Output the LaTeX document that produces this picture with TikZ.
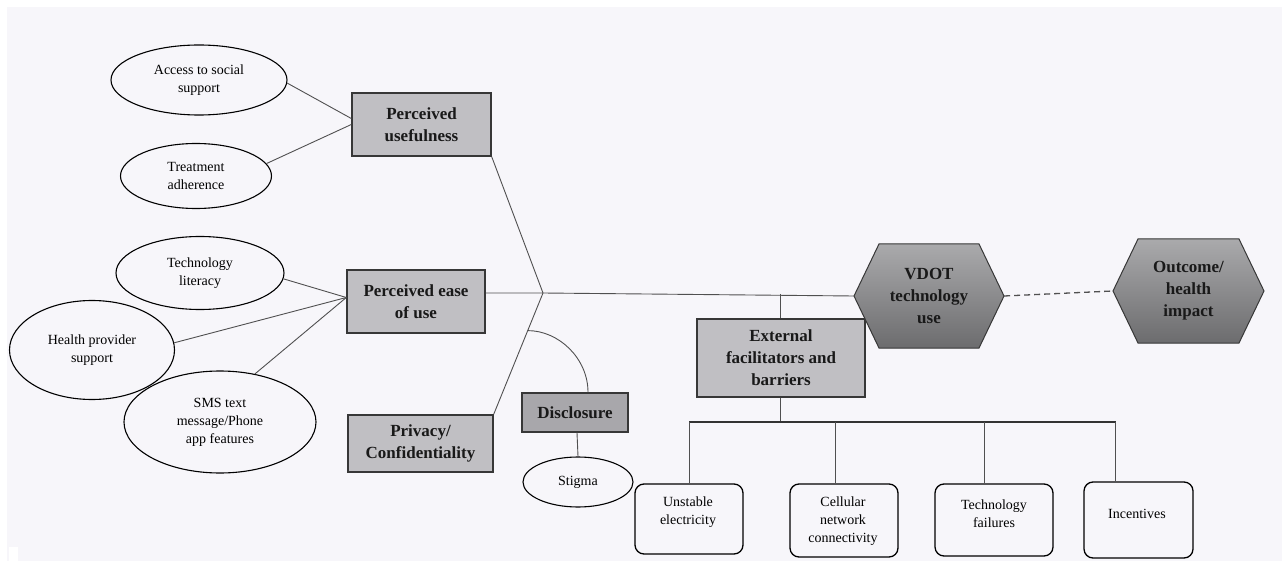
\documentclass[tikz,border=0pt]{standalone}
\usepackage{fontspec}
\setmainfont{Liberation Serif}
\usetikzlibrary{shapes.geometric,calc}

\definecolor{bg}{RGB}{247,246,250}
\definecolor{boxfill}{RGB}{192,191,195}
\definecolor{discfill}{RGB}{168,167,171}
\definecolor{hextop}{RGB}{170,170,172}
\definecolor{hexbot}{RGB}{108,108,110}
\definecolor{edgecol}{RGB}{55,55,55}
\definecolor{conn}{RGB}{80,80,80}

\begin{document}
\begin{tikzpicture}[x=1pt,y=-1pt,
  oval/.style={ellipse, draw=black, line width=1.1pt, inner sep=0pt, align=center, font=\fontsize{14}{18}\selectfont},
  factor/.style={rectangle, draw=edgecol, line width=1.4pt, fill=boxfill, inner sep=0pt, align=center, font=\fontsize{17}{22}\selectfont\bfseries, text=black!90},
  leaf/.style={rectangle, rounded corners=9pt, draw=black, line width=1.3pt, inner sep=0pt},
  leaftext/.style={inner sep=0pt, align=center, font=\fontsize{14}{18}\selectfont},
  hexnode/.style={rectangle, inner sep=0pt, align=center, font=\fontsize{17}{22}\selectfont\bfseries, text=black!90},
  hexshape/.style={draw=edgecol, line width=1pt, top color=hextop, bottom color=hexbot},
  link/.style={draw=conn, line width=0.9pt},
  barlink/.style={draw=black!80, line width=1.1pt},
  dashlink/.style={draw=conn, line width=1.3pt, dash pattern=on 6pt off 4pt},
]
\useasboundingbox (0,0) rectangle (1282,561);
\fill[white] (0,0) rectangle (1282,561);
\fill[bg] (7,7) rectangle (1282,561);
\fill[white] (9,547) rectangle (18,561);

% ellipses
\node[oval, minimum width=176, minimum height=70] (acc) at (199,80) {Access to social\\support};
\node[oval, minimum width=151, minimum height=65] (tr) at (196,176) {Treatment\\adherence};
\node[oval, minimum width=168, minimum height=73] (tl) at (200,273) {Technology\\literacy};
\node[oval, minimum width=165, minimum height=99] (hp) at (92,350) {Health provider\\support};
\node[oval, minimum width=192, minimum height=102] (sms) at (220,422) {SMS text\\message/Phone\\app features};
\node[oval, minimum width=110, minimum height=50] (stig) at (578,482) {Stigma};

% factor boxes
\node[factor, minimum width=139, minimum height=63] (pu) at (421.5,124.5) {Perceived\\usefulness};
\node[factor, minimum width=138, minimum height=63] (peu) at (416,301.5) {Perceived ease\\of use};
\node[factor, minimum width=145, minimum height=57] (priv) at (420.5,443.5) {Privacy/\\Confidentiality};
\node[factor, fill=discfill, minimum width=106, minimum height=39] (disc) at (575,412.5) {Disclosure};
\node[factor, minimum width=168, minimum height=78] (ext) at (781,358) {External\\facilitators and\\barriers};

% hexagons
\path[hexshape] (854,296) -- (879,244) -- (979,244) -- (1004,296) -- (979,348) -- (879,348) -- cycle;
\node[hexnode, minimum width=150, minimum height=104] (vdot) at (929,296) {VDOT\\technology\\use};
\path[hexshape] (1113,291) -- (1138,239) -- (1239,239) -- (1264,291) -- (1239,343) -- (1138,343) -- cycle;
\node[hexnode, minimum width=151, minimum height=104] (outc) at (1188.5,291) {Outcome/\\health\\impact};

% leaf boxes
\node[leaf, minimum width=108, minimum height=70] (u1) at (689,519) {};
\node[leaftext] (u1t) at (688,512) {Unstable\\electricity};
\node[leaf, minimum width=108, minimum height=73] (u2) at (844,520.5) {};
\node[leaftext] (u2t) at (843,521) {Cellular\\network\\connectivity};
\node[leaf, minimum width=118, minimum height=72] (u3) at (994,520) {};
\node[leaftext] (u3t) at (994,514) {Technology\\failures};
\node[leaf, minimum width=109, minimum height=76] (u4) at (1138.5,520) {};
\node[leaftext] (u4t) at (1137,514) {Incentives};

% connectors
\coordinate (j) at (543,293);
\draw[link] (acc.-2) -- ($(pu.west)+(0,-6)$);
\draw[link] (tr.10) -- (pu.west);
\draw[link] (tl.-4) -- ($(peu.west)+(0,-4)$);
\draw[link] (hp.5) -- ($(peu.west)+(0,-4)$);
\draw[link] (sms.54) -- ($(peu.west)+(0,-4)$);
\draw[link] (pu.south east) -- (j);
\draw[link] (peu.east |- j) -- (j) -- (vdot.west);
\draw[link] (priv.north east) -- (j);
\coordinate (arcA) at ($(priv.north east)!0.69!(j)$);
\coordinate (arcB) at ($(disc.north)+(13,0)$);
\draw[link] (arcA) .. controls ($(arcA)+(31,0)$) and ($(arcB)+(0,-34)$) .. (arcB);
\draw[link] ($(disc.south)+(2,0)$) -- (stig.north);
\draw[dashlink] (vdot.east) -- (outc.west);

\coordinate (ej) at (780,294);
\draw[link] (ej) -- (ej |- ext.north);
\coordinate (bar) at (780,422);
\draw[link] (ext.south -| bar) -- (bar);
\draw[barlink] (u1.north |- bar) -- ($(u4.north |- bar)+(-23,0)$);
\draw[link] (u1.north |- bar) -- (u1.north);
\draw[link] ($(u2.north |- bar)+(-9,0)$) -- ($(u2.north)+(-9,0)$);
\draw[link] ($(u3.north |- bar)+(-10,0)$) -- ($(u3.north)+(-10,0)$);
\draw[link] ($(u4.north |- bar)+(-23,0)$) -- ($(u4.north)+(-23,0)$);
\end{tikzpicture}
\end{document}
